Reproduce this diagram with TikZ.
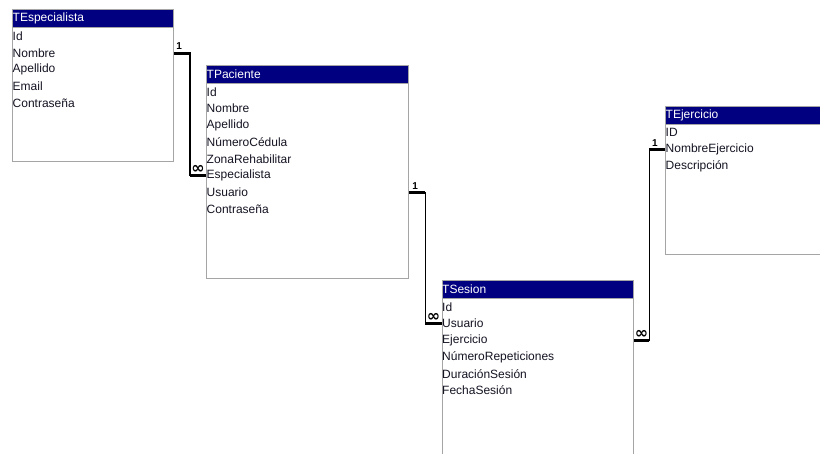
\documentclass[tikz,border=0pt]{standalone}
\usepackage{fontspec}
\setmainfont{Liberation Sans}
\newfontfamily\symfont{DejaVu Sans}
\usetikzlibrary{calc}

\definecolor{hdr}{RGB}{0,0,128}
\definecolor{frame}{RGB}{165,165,165}
\definecolor{ink}{RGB}{20,20,35}

\tikzset{
  tblbody/.style={draw=frame, line width=1.2pt, fill=white, inner sep=0pt, anchor=north west},
  tblhead/.style={fill=hdr, draw=frame, line width=0.8pt, inner sep=0pt, anchor=north west, minimum height=18pt},
  hdrtext/.style={text=white, anchor=west, inner sep=0pt, font=\fontsize{12}{14}\selectfont},
  field/.style={anchor=west, inner sep=0pt, text=ink, font=\fontsize{12}{14}\selectfont},
  link/.style={line width=1.6pt, black},
  stub/.style={line width=3pt, black},
  one/.style={inner sep=0pt, font=\bfseries\fontsize{10}{11}\selectfont},
  many/.style={inner sep=0pt, font=\symfont\bfseries\fontsize{16}{16}\selectfont},
}

% \erbox{name}{x0}{y0}{x1}{y1}{title}{fields}  (page units: 1pt per pixel, y downward)
\newcommand{\erbox}[7]{%
  \node[tblbody, minimum width={(#4-#2)*1pt}, minimum height={(#5-#3)*1pt}] (#1) at (#2,-#3) {};
  \node[tblhead, minimum width={(#4-#2)*1pt}] (#1-h) at (#2,-#3) {};
  \node[hdrtext] at ([xshift=0.5pt]#1-h.west) {#6};
  \foreach \f [count=\i] in {#7}
    \node[field] (#1-\i) at ([xshift=0.5pt, yshift={-8.5pt-(\i-1)*16.75pt}]#1-h.south west) {\f};
}

\begin{document}
\begin{tikzpicture}[x=1pt, y=1pt]
  \useasboundingbox (0,0) rectangle (820,-453);
  \fill[white] (0,0) rectangle (820,-453);
  \clip (0,0) rectangle (820,-453);

  \erbox{esp}{12}{9}{173}{161}{TEspecialista}{Id,Nombre,Apellido,Email,Contraseña}
  \erbox{pac}{206}{64.5}{408}{278}{TPaciente}{Id,Nombre,Apellido,NúmeroCédula,ZonaRehabilitar,Especialista,Usuario,Contraseña}
  \erbox{ses}{441.5}{279.5}{632.5}{470}{TSesion}{Id,Usuario,Ejercicio,NúmeroRepeticiones,DuraciónSesión,FechaSesión}
  \erbox{eje}{665}{105.5}{830}{254}{TEjercicio}{ID,NombreEjercicio,Descripción}

  % TEspecialista (1) -- (many) TPaciente
  \coordinate (a1) at (esp-2 -| esp.east);
  \coordinate (b1) at (pac-6 -| pac.west);
  \coordinate (m1) at ($(a1)!0.5!(b1)$);
  \draw[link] (a1) -| (m1) |- (b1);
  \draw[stub] (a1) -- (a1 -| m1);
  \draw[stub] (b1 -| m1) -- (b1);
  \node[one, anchor=south west] at ([xshift=2pt, yshift=3pt]a1) {1};
  \node[many, anchor=south east] at ([xshift=-1pt, yshift=1.5pt]b1) {∞};

  % TPaciente (1) -- (many) TSesion
  \coordinate (a2) at (pac-7 -| pac.east);
  \coordinate (b2) at (ses-2 -| ses.west);
  \coordinate (m2) at ($(a2)!0.5!(b2)$);
  \draw[link] (a2) -| (m2) |- (b2);
  \draw[stub] (a2) -- (a2 -| m2);
  \draw[stub] (b2 -| m2) -- (b2);
  \node[one, anchor=south west] at ([xshift=3pt, yshift=3pt]a2) {1};
  \node[many, anchor=south east] at ([xshift=-1pt, yshift=1.5pt]b2) {∞};

  % TEjercicio (1) -- (many) TSesion
  \coordinate (a3) at (eje-2 -| eje.west);
  \coordinate (b3) at (ses-3 -| ses.east);
  \coordinate (m3) at ($(a3)!0.5!(b3)$);
  \draw[link] (a3) -| (m3) |- (b3);
  \draw[stub] (a3) -- (a3 -| m3);
  \draw[stub] (b3 -| m3) -- (b3);
  \node[one, anchor=south east] at ([xshift=-7pt, yshift=3pt]a3) {1};
  \node[many, anchor=south west] at ([xshift=1pt, yshift=1.5pt]b3) {∞};
\end{tikzpicture}
\end{document}
